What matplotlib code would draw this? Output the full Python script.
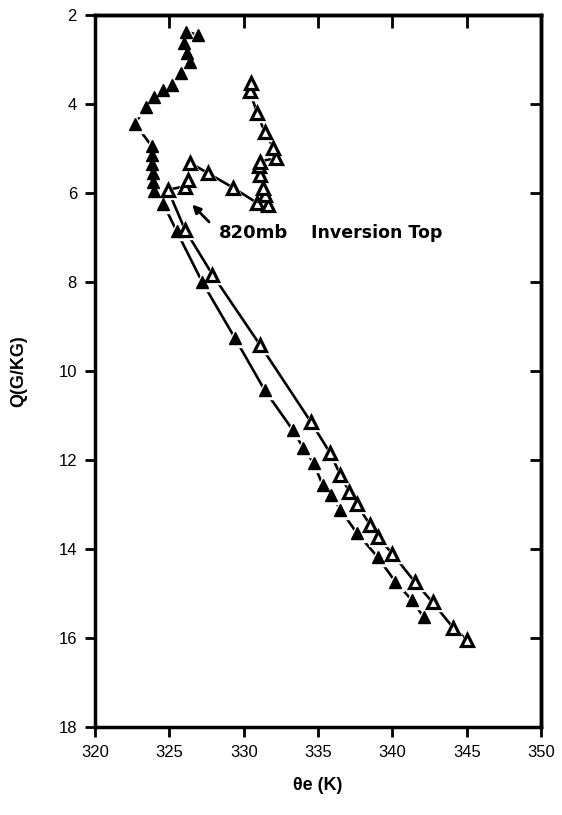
import matplotlib
matplotlib.use('Agg')
import matplotlib.pyplot as plt

# Theta-e (K) and Q (g/kg), from surface upward
theta_filled = [342.1, 341.3, 340.2, 339.0, 337.6, 336.5, 335.9, 335.3, 334.7, 334.0,
                333.3, 331.4, 329.4, 327.2, 325.5, 324.6, 324.0, 323.9, 323.9, 323.8,
                323.8, 323.8, 322.7, 323.4, 324.0, 324.6, 325.15, 325.8, 326.4, 326.2,
                326.0, 326.1, 326.9]
q_filled = [15.53, 15.15, 14.74, 14.18, 13.64, 13.12, 12.79, 12.56, 12.07, 11.73,
            11.33, 10.43, 9.26, 8.00, 6.87, 6.25, 5.95, 5.75, 5.55, 5.35,
            5.15, 4.95, 4.45, 4.07, 3.84, 3.69, 3.57, 3.30, 3.06, 2.85,
            2.63, 2.38, 2.45]

theta_open = [345.0, 344.1, 342.7, 341.5, 340.0, 339.0, 338.5, 337.6, 337.1, 336.5,
              335.8, 334.5, 331.1, 327.9, 326.05, 324.9, 326.05, 326.25, 326.4, 327.6,
              329.3, 330.9, 331.6, 331.4, 331.3, 331.1, 331.0, 331.1, 332.2, 332.0,
              331.4, 330.9, 330.4, 330.5]
q_open = [16.04, 15.78, 15.20, 14.74, 14.11, 13.73, 13.46, 13.00, 12.72, 12.34,
          11.84, 11.14, 9.42, 7.84, 6.83, 5.93, 5.86, 5.71, 5.33, 5.56,
          5.89, 6.23, 6.27, 6.04, 5.89, 5.60, 5.41, 5.30, 5.21, 4.99,
          4.63, 4.20, 3.72, 3.54]

x_ticks = [320, 325, 330, 335, 340, 345, 350]
y_ticks = [2, 4, 6, 8, 10, 12, 14, 16, 18]

plt.rcParams['font.family'] = ['Liberation Sans', 'DejaVu Sans']

fig = plt.figure(figsize=(5.62, 8.15), dpi=100)
ax = fig.add_axes([0.169, 0.108, 0.794, 0.874])

# lines first, then white halos to break the line near each marker, then markers
ax.plot(theta_filled, q_filled, color='black', lw=1.9, zorder=2)
ax.plot(theta_open, q_open, color='black', lw=1.9, zorder=2)
ax.plot(theta_filled + theta_open, q_filled + q_open, ls='none', marker='^',
        ms=12.5, color='white', mec='white', zorder=3)
ax.plot(theta_filled, q_filled, ls='none', marker='^', ms=9,
        color='black', mec='black', zorder=4)
ax.plot(theta_open, q_open, ls='none', marker='^', ms=8.3,
        mfc='white', mec='black', mew=2.3, zorder=4)

# annotation
ax.annotate('', xy=(326.4, 6.22), xytext=(327.8, 6.7),
            arrowprops=dict(arrowstyle='-|>', color='black', lw=2, mutation_scale=12))
ax.text(328.3, 6.9, '820mb', fontsize=13, fontweight='bold', family='DejaVu Sans',
        va='center', ha='left')
ax.text(334.5, 6.9, 'Inversion Top', fontsize=12.5, fontweight='bold', family='DejaVu Sans',
        va='center', ha='left')

ax.set_xlim(320, 350)
ax.set_ylim(18, 2)
ax.set_xticks(x_ticks)
ax.set_yticks(y_ticks)
ax.tick_params(direction='out', length=7, width=2, labelsize=12, pad=6)

for s in ax.spines.values():
    s.set_linewidth(2.5)

# inward ticks on top and right
top = ax.secondary_xaxis('top')
top.set_xticks(x_ticks)
top.tick_params(direction='in', length=9, width=2, labeltop=False)
top.spines['top'].set_linewidth(2.5)
right = ax.secondary_yaxis('right')
right.set_yticks(y_ticks)
right.tick_params(direction='in', length=8, width=2, labelright=False)
right.spines['right'].set_linewidth(2.5)

ax.set_xlabel('θe (K)', fontsize=13, fontweight='bold', labelpad=12)
ax.set_ylabel('Q(G/KG)', fontsize=13, fontweight='bold', labelpad=22)

fig.savefig('out.png', dpi=100)
